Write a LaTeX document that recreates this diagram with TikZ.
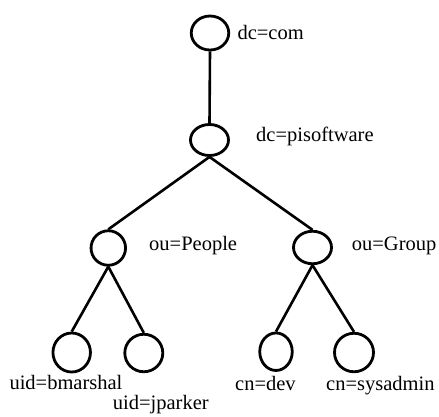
\documentclass[tikz,border=0pt]{standalone}
\usepackage{fontspec}
\setmainfont{Liberation Serif}
\usetikzlibrary{shapes.geometric}
\begin{document}
\begin{tikzpicture}[x=1pt,y=-1pt,
  entry/.style={draw=black, line width=2.8pt, ellipse, inner sep=0pt,
    minimum width=37pt, minimum height=36pt},
  link/.style={draw=black, line width=2.6pt},
  rdn/.style={anchor=base west, inner sep=0pt,
    font=\fontsize{20.5}{24}\selectfont}]
\useasboundingbox (0,0) rectangle (439,416);

% directory entries
\node[entry, minimum width=37.5pt, minimum height=34pt] (com) at (210,33) {};
\node[entry, minimum width=38pt, minimum height=31pt] (pis) at (209.5,140) {};
\node[entry, minimum width=34.5pt, minimum height=34.5pt] (people) at (108.3,248) {};
\node[entry, minimum width=38pt, minimum height=32.5pt] (group) at (312.5,247.5) {};
\node[entry, minimum width=37.5pt, minimum height=39pt] (bm) at (71.7,352.5) {};
\node[entry, minimum width=38pt, minimum height=37.5pt] (jp) at (143.8,353) {};
\node[entry, minimum width=32.5pt, minimum height=37.5pt] (dev) at (276,351.7) {};
\node[entry, minimum width=39pt, minimum height=38.5pt] (sys) at (354,352.5) {};

% relative distinguished names
\node[rdn] (tcom) at (237.3,39.3) {dc=com};
\node[rdn] (tpis) at (256,141.7) {dc=pisoftware};
\node[rdn] (tpeople) at (149,250.7) {ou=People};
\node[rdn] (tgroup) at (351.7,250.7) {ou=Group};
\node[rdn] (tbm) at (9.3,389.3) {uid=bmarshal};
\node[rdn] (tjp) at (112.7,409.3) {uid=jparker};
\node[rdn] (tdev) at (235,390.7) {cn=dev};
\node[rdn] (tsys) at (326,390.7) {cn=sysadmin};

% tree edges
\draw[link] (com.south) -- (pis.north);
\draw[link] (pis.south) -- (people.north);
\draw[link] (pis.south) -- (group.north);
\draw[link] (people.south) -- (bm.north);
\draw[link] (people.south) -- (jp.north);
\draw[link] (group.south) -- (dev.north);
\draw[link] (group.south) -- (sys.north);
\end{tikzpicture}
\end{document}
